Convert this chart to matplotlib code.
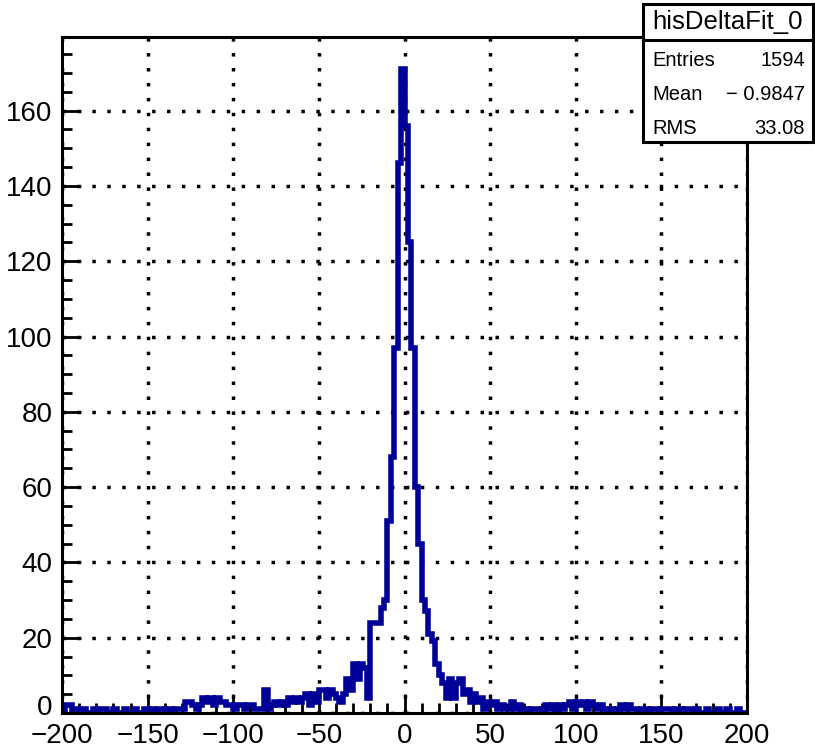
import numpy as np
import matplotlib
matplotlib.use("Agg")
import matplotlib.pyplot as plt
from matplotlib.ticker import MultipleLocator
from matplotlib.patches import Rectangle
import matplotlib.transforms as mtransforms

# ---------------- data ----------------
x_min, x_max, bin_width = -200, 200, 2
# bin contents, left to right (bins of width 2 from -200 to 200)
counts_far_left = [0, 2, 2, 0, 1, 0, 1, 0, 0, 1, 0, 1, 1, 0, 0, 1, 0, 0, 1, 0,
                   0, 1, 0, 0, 1, 0, 1, 0, 1, 1, 0, 1, 0, 1, 1]            # -200 .. -130
counts_left_1 = [1, 3, 3, 2, 1, 2, 4, 3, 4, 2, 4, 3, 3, 2, 2]             # -130 .. -100
counts_left_2 = [1, 2, 2, 1, 2, 2, 1, 1, 1, 6, 1, 2, 3, 2, 3, 2, 4, 3, 4, 3]  # -100 .. -60
counts_left_3 = [4, 5, 2, 5, 3, 6, 6, 4, 6, 5, 4, 3]                      # -60 .. -36
counts_left_4 = [5, 9, 6, 13, 9, 13, 12]                                  # -36 .. -22
counts_core = [4, 24, 24, 24, 28, 30, 51, 68, 97, 146, 171, 156, 125, 97, 60,
               45, 30, 27, 21, 19, 13, 10, 8]                              # -22 .. 24
counts_right_1 = [4, 9, 4, 8, 9, 5, 6, 3, 5, 3, 4, 1, 3, 2, 3, 1, 2, 1]     # 24 .. 60
counts_far_right = [1, 3, 1, 2, 0, 1, 0, 1, 1, 0,
                    1, 2, 1, 2, 0, 2, 1, 2, 3, 1,
                    3, 2, 3, 1, 3, 2, 1, 2, 1, 0,
                    1, 0, 1, 2, 1, 2, 1, 1, 0, 1,
                    1, 0, 1, 1, 0, 1, 1, 1, 0, 1,
                    1, 0, 1, 1, 0, 1, 0, 0, 1, 0,
                    0, 1, 0, 0, 1, 0, 0, 1, 0, 0]                         # 60 .. 200

x_ticks = [-200, -150, -100, -50, 0, 50, 100, 150, 200]
y_ticks = [0, 20, 40, 60, 80, 100, 120, 140, 160]

hist_name = "hisDeltaFit_0"
stat_labels = ["Entries", "Mean", "RMS"]
stat_values = ["1594", "\u2212 0.9847", "33.08"]

counts = np.array(counts_far_left + counts_left_1 + counts_left_2 + counts_left_3 +
                  counts_left_4 + counts_core + counts_right_1 + counts_far_right, dtype=float)
edges = np.arange(x_min, x_max + bin_width, bin_width)

# ---------------- figure ----------------
plt.rcParams['font.family'] = ['Liberation Sans', 'DejaVu Sans']
W, H = 815, 748
fig = plt.figure(figsize=(W / 100, H / 100), dpi=100)
L, R, T, B = 62, 747, 37, 713
ax = fig.add_axes([L / W, 1 - B / H, (R - L) / W, (B - T) / H])

ax.stairs(counts, edges, color='#000099', linewidth=4.0, baseline=0, zorder=3)

ax.set_xlim(x_min, x_max)
ax.set_ylim(0, counts.max() * 1.05)

ax.set_xticks(x_ticks)
ax.set_yticks(y_ticks)
ax.xaxis.set_minor_locator(MultipleLocator(10))
ax.yaxis.set_minor_locator(MultipleLocator(5))
ax.tick_params(which='major', direction='in', length=14, width=2, labelsize=20,
               top=False, right=False)
ax.tick_params(axis='x', which='major', pad=7)
ax.tick_params(axis='y', which='major', pad=7)
ax.tick_params(which='minor', direction='in', length=7, width=2, top=False, right=False)

# nudge the lowest y label up a little so it clears the x labels
fig.canvas.draw()
ylabs = ax.get_yticklabels()
if ylabs:
    ylabs[0].set_transform(ylabs[0].get_transform() +
                           mtransforms.ScaledTranslation(0, 8 / 100, fig.dpi_scale_trans))

ax.grid(True, which='major', color='black', linestyle=(0, (1, 3.3)), linewidth=2.5, zorder=1)
ax.set_axisbelow(True)
for s in ax.spines.values():
    s.set_linewidth(2.2)
    s.set_zorder(4)

# ---------------- stats box ----------------
def fx(px):
    return px / W

def fy(py):
    return 1 - py / H

bx0, bx1, by0, by1, bsep = 643, 813, 4, 142, 40
fig.patches.append(Rectangle((fx(bx0), fy(by1)), fx(bx1) - fx(bx0), fy(by0) - fy(by1),
                             transform=fig.transFigure, facecolor='white',
                             edgecolor='black', linewidth=2.2, zorder=10))
fig.add_artist(plt.Line2D([fx(bx0), fx(bx1)], [fy(bsep), fy(bsep)],
                          transform=fig.transFigure, color='black', linewidth=2.2, zorder=11))
fig.text(fx((bx0 + bx1) / 2), fy(22), hist_name, ha='center', va='center',
         fontsize=18.5, zorder=12)
row_y = [60, 94, 128]
for lab, val, yy in zip(stat_labels, stat_values, row_y):
    fig.text(fx(652), fy(yy), lab, ha='left', va='center', fontsize=14.5, zorder=12)
    fig.text(fx(805), fy(yy), val, ha='right', va='center', fontsize=14.5, zorder=12)

fig.savefig("out.png", dpi=100)
